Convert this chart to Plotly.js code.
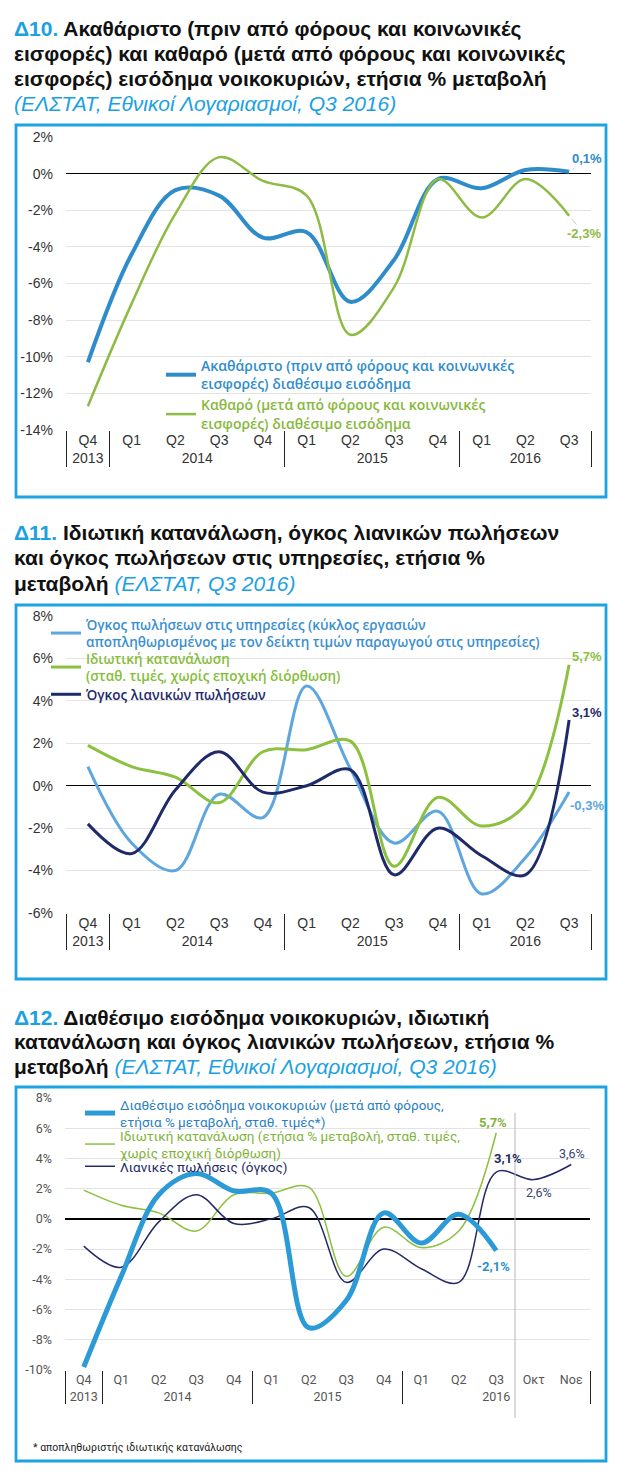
<!DOCTYPE html>
<html>
<head>
<meta charset="utf-8">
<script src="https://cdn.plot.ly/plotly-3.0.1.min.js"></script>
<style>
html,body{margin:0;padding:0;background:#fff;}
#chart{width:629px;height:1477px;}
</style>
</head>
<body>
<div id="chart"></div>
<script>
// ---------- DATA ----------
// Δ10  (first quarter label carries a zero-width space so the axis keeps Q1..Q4 order inside each year)
const years10 = ['2013','2014','2014','2014','2014','2015','2015','2015','2015','2016','2016','2016'];
const quarters10 = ['Q4\u200B','Q1','Q2','Q3','Q4','Q1','Q2','Q3','Q4','Q1','Q2','Q3'];
const grossIncome = [-10.3,-4.4,-0.9,-1.2,-3.5,-3.2,-7.0,-4.7,-0.3,-0.8,0.2,0.1];
const netIncome = [-12.7,-7.1,-2.2,0.9,-0.4,-1.2,-8.8,-6.2,-0.3,-2.4,-0.3,-2.3];
const yTicks10 = [-14,-12,-10,-8,-6,-4,-2,0,2];
const yLabels10 = ['-14%','-12%','-10%','-8%','-6%','-4%','-2%','0%','2%'];

// Δ11
const years11 = ['2013','2014','2014','2014','2014','2015','2015','2015','2015','2016','2016','2016'];
const quarters11 = ['Q4\u200B','Q1','Q2','Q3','Q4','Q1','Q2','Q3','Q4','Q1','Q2','Q3'];
const servicesSales = [0.9,-2.7,-4.0,-0.4,-1.5,4.7,0.8,-2.7,-1.2,-5.1,-3.4,-0.3];
const privateConsumption = [1.9,0.9,0.4,-0.8,1.6,1.7,2.1,-3.8,-0.55,-1.9,-0.9,5.7];
const retailSales = [-1.8,-3.2,-0.2,1.6,-0.3,0.0,0.75,-4.2,-2.0,-3.3,-4.2,3.1];
const yTicks11 = [-6,-4,-2,0,2,4,6,8];
const yLabels11 = ['-6%','-4%','-2%','0%','2%','4%','6%','8%'];

// Δ12
const years12 = ['2013','2014','2014','2014','2014','2015','2015','2015','2015','2016','2016','2016','2016','2016'];
const periods12 = ['Q4\u200B','Q1','Q2','Q3','Q4','Q1','Q2','Q3','Q4','Q1','Q2','Q3','Οκτ','Νοε'];
const disposableIncome = [-9.8,-3.8,1.6,3.0,1.85,1.7,-7.2,-5.4,0.4,-1.6,0.3,-2.1];
const privateConsumption12 = [1.9,0.9,0.4,-0.8,1.6,1.7,2.1,-3.8,-0.55,-1.9,-0.8,5.7];
const retailSales12 = [-1.8,-3.2,-0.2,1.6,-0.3,0.0,0.75,-4.2,-2.0,-3.3,-4.2,3.1,2.6,3.6];
const yTicks12 = [-10,-8,-6,-4,-2,0,2,4,6,8];
const yLabels12 = ['-10%','-8%','-6%','-4%','-2%','0%','2%','4%','6%','8%'];

// ---------- LAYOUT HELPERS ----------
const W = 629, H = 1477;
const px = x => x / W;
const py = y => 1 - y / H;
const ARIAL = 'Liberation Sans, Arial, sans-serif';
const OPEN = 'Open Sans, Noto Sans, sans-serif';
const CAL = 'Roboto, Noto Sans, sans-serif';
const TBLUE = '#1ba1e2';

const C1blue = '#2e8ccb', C1green = '#8dbb43';
const C2blue = '#5ea6dd', C2green = '#8cc13f', C2navy = '#1f2a6b';
const C3blue = '#2d9ad8', C3green = '#8cc13f', C3navy = '#232a66';

function xcat(y, q, n){ return [y.slice(0, n), q.slice(0, n)]; }
const sp = (c, t) => "<span style='color:"+c+"'>"+t+"</span>";

const traces = [
  // Δ10
  {x: xcat(years10, quarters10, grossIncome.length), y: grossIncome, type:'scatter', mode:'lines', xaxis:'x', yaxis:'y',
   line:{color:C1blue, width:4, shape:'spline', smoothing:1}, legend:'legend',
   name: sp('#2f8dcc', 'Ακαθάριστο (πριν από φόρους και κοινωνικές<br>εισφορές) διαθέσιμο εισόδημα')},
  {x: xcat(years10, quarters10, netIncome.length), y: netIncome, type:'scatter', mode:'lines', xaxis:'x', yaxis:'y',
   line:{color:C1green, width:2.5, shape:'spline', smoothing:1}, legend:'legend',
   name: sp('#86b83c', 'Καθαρό (μετά από φόρους και κοινωνικές<br>εισφορές) διαθέσιμο εισόδημα')},
  // Δ11
  {x: xcat(years11, quarters11, servicesSales.length), y: servicesSales, type:'scatter', mode:'lines', xaxis:'x2', yaxis:'y2',
   line:{color:C2blue, width:3, shape:'spline', smoothing:1}, legend:'legend2',
   name: sp('#3a8fd0', 'Όγκος πωλήσεων στις υπηρεσίες (κύκλος εργασιών<br>αποπληθωρισμένος με τον δείκτη τιμών παραγωγού στις υπηρεσίες)')},
  {x: xcat(years11, quarters11, privateConsumption.length), y: privateConsumption, type:'scatter', mode:'lines', xaxis:'x2', yaxis:'y2',
   line:{color:C2green, width:3, shape:'spline', smoothing:1}, legend:'legend4',
   name: sp('#86bd3a', 'Ιδιωτική κατανάλωση<br>(σταθ. τιμές, χωρίς εποχική διόρθωση)')},
  {x: xcat(years11, quarters11, retailSales.length), y: retailSales, type:'scatter', mode:'lines', xaxis:'x2', yaxis:'y2',
   line:{color:C2navy, width:3, shape:'spline', smoothing:1}, legend:'legend5',
   name: sp(C2navy, 'Όγκος λιανικών πωλήσεων')},
  // Δ12
  {x: xcat(years12, periods12, privateConsumption12.length), y: privateConsumption12, type:'scatter', mode:'lines', xaxis:'x3', yaxis:'y3',
   line:{color:C3green, width:1.5, shape:'spline', smoothing:1}, legend:'legend6',
   name: sp('#7fb339', 'Ιδιωτική κατανάλωση (ετήσια % μεταβολή, σταθ. τιμές,<br>χωρίς εποχική διόρθωση)')},
  {x: xcat(years12, periods12, retailSales12.length), y: retailSales12, type:'scatter', mode:'lines', xaxis:'x3', yaxis:'y3',
   line:{color:C3navy, width:1.5, shape:'spline', smoothing:1}, legend:'legend7',
   name: sp(C3navy, 'Λιανικές πωλήσεις (όγκος)')},
  {x: xcat(years12, periods12, disposableIncome.length), y: disposableIncome, type:'scatter', mode:'lines', xaxis:'x3', yaxis:'y3',
   line:{color:C3blue, width:5, shape:'spline', smoothing:1}, legend:'legend3',
   name: sp('#2a7fbf', 'Διαθέσιμο εισόδημα νοικοκυριών (μετά από φόρους,<br>ετήσια % μεταβολή, σταθ. τιμές*)')}
];

function xAxis(dom, anchor, font, n){
  return {type:'multicategory', domain:dom, anchor:anchor, range:[-0.5, n-0.5], autorange:false,
    showgrid:false, zeroline:false, showline:false, ticks:'',
    showdividers:true, dividercolor:'#222', dividerwidth:1,
    tickfont:font, fixedrange:true};
}
function yAxis(dom, anchor, range, tv, tt, font, zw){
  return {domain:dom, anchor:anchor, range:range, tickvals:tv, ticktext:tt, showgrid:true,
    gridcolor:'#e3e3e3', gridwidth:1, zeroline:true, zerolinecolor:'#000', zerolinewidth:zw,
    showline:false, ticks:'', ticklabelstandoff:12, tickfont:font, fixedrange:true};
}
const tf12 = {family:ARIAL, size:14, color:'#333'};
const tf3 = {family:CAL, size:12.5, color:'#555'};

function titleLine(txt, y){
  return {xref:'paper', yref:'paper', x:px(12), y:py(y), xanchor:'left', yanchor:'middle',
    showarrow:false, align:'left', text:txt, font:{family:ARIAL, size:21, color:'#111'}};
}
const blueSpan = t => sp(TBLUE, t);

const annotations = [
  titleLine("<b>"+blueSpan("Δ10.")+" Ακαθάριστο (πριν από φόρους και κοινωνικές</b>", 29),
  titleLine("<b>εισφορές) και καθαρό (μετά από φόρους και κοινωνικές</b>", 54),
  titleLine("<b>εισφορές) εισόδημα νοικοκυριών, ετήσια % μεταβολή</b>", 79),
  titleLine("<i>"+blueSpan("(ΕΛΣΤΑΤ, Εθνικοί Λογαριασμοί, Q3 2016)")+"</i>", 103),

  titleLine("<b>"+blueSpan("Δ11.")+" Ιδιωτική κατανάλωση, όγκος λιανικών πωλήσεων</b>", 533),
  titleLine("<b>και όγκος πωλήσεων στις υπηρεσίες, ετήσια %</b>", 558),
  titleLine("<b>μεταβολή</b> <i>"+blueSpan("(ΕΛΣΤΑΤ, Q3 2016)")+"</i>", 583),

  titleLine("<b>"+blueSpan("Δ12.")+" Διαθέσιμο εισόδημα νοικοκυριών, ιδιωτική</b>", 1017),
  titleLine("<b>κατανάλωση και όγκος λιανικών πωλήσεων, ετήσια %</b>", 1042),
  titleLine("<b>μεταβολή</b> <i>"+blueSpan("(ΕΛΣΤΑΤ, Εθνικοί Λογαριασμοί, Q3 2016)")+"</i>", 1066),

  // value labels Δ10
  {xref:'x', yref:'y', x:grossIncome.length-1, y:grossIncome[grossIncome.length-1], text:'<b>0,1%</b>',
   showarrow:true, arrowhead:0, arrowwidth:0.8, arrowcolor:'#bbb', ax:18, ay:-13, standoff:4,
   font:{family:ARIAL, size:13, color:C1blue}},
  {xref:'x', yref:'y', x:netIncome.length-1, y:netIncome[netIncome.length-1], text:'<b>-2,3%</b>',
   showarrow:true, arrowhead:0, arrowwidth:0.8, arrowcolor:'#bbb', ax:15, ay:18, standoff:4,
   font:{family:ARIAL, size:13, color:C1green}},
  // value labels Δ11
  {xref:'x2', yref:'y2', x:privateConsumption.length-1, y:privateConsumption[privateConsumption.length-1], text:'<b>5,7%</b>',
   showarrow:false, xshift:18, yshift:8, font:{family:ARIAL, size:13, color:C2green}},
  {xref:'x2', yref:'y2', x:retailSales.length-1, y:retailSales[retailSales.length-1], text:'<b>3,1%</b>',
   showarrow:false, xshift:18, yshift:7, font:{family:ARIAL, size:13, color:C2navy}},
  {xref:'x2', yref:'y2', x:servicesSales.length-1, y:servicesSales[servicesSales.length-1], text:'<b>-0,3%</b>',
   showarrow:false, xshift:18, yshift:-13, font:{family:ARIAL, size:13, color:C2blue}},
  // value labels Δ12
  {xref:'x3', yref:'y3', x:privateConsumption12.length-1, y:privateConsumption12[privateConsumption12.length-1], text:'<b>5,7%</b>',
   showarrow:false, xshift:-3, yshift:10, font:{family:CAL, size:13, color:'#7fb339'}},
  {xref:'x3', yref:'y3', x:11, y:retailSales12[11], text:'<b>3,1%</b>',
   showarrow:false, xshift:12, yshift:14, font:{family:CAL, size:13, color:C3navy}},
  {xref:'x3', yref:'y3', x:disposableIncome.length-1, y:disposableIncome[disposableIncome.length-1], text:'<b>-2,1%</b>',
   showarrow:false, xshift:-3, yshift:-16, font:{family:CAL, size:13, color:'#2a8fd0'}},
  {xref:'x3', yref:'y3', x:12, y:retailSales12[12], text:'2,6%',
   showarrow:false, xshift:5, yshift:-13, font:{family:CAL, size:12.5, color:'#3a4275'}},
  {xref:'x3', yref:'y3', x:13, y:retailSales12[13], text:'3,6%',
   showarrow:false, xshift:1, yshift:11, font:{family:CAL, size:12.5, color:'#3a4275'}},
  // footnote
  {xref:'paper', yref:'paper', x:px(31), y:py(1447), xanchor:'left', yanchor:'middle', showarrow:false,
   text:'* αποπληθωριστής ιδιωτικής κατανάλωσης', font:{family:CAL, size:10.5, color:'#222'}}
];

function frame(y0, y1){
  return {type:'rect', xref:'paper', yref:'paper', x0:px(16), x1:px(606), y0:py(y1), y1:py(y0),
    line:{color:'#1ca3e3', width:2.8}, fillcolor:'rgba(0,0,0,0)', layer:'above'};
}
const shapes = [
  frame(125, 497), frame(605, 979), frame(1087, 1461),
  {type:'line', xref:'x3', yref:'paper', x0:11.5, x1:11.5, y0:py(1418), y1:py(1113),
   line:{color:'#b5b5b5', width:1}}
];

function leg(x, top, font){
  return {x:px(x), y:py(top), xanchor:'left', yanchor:'top', bgcolor:'rgba(0,0,0,0)',
    font:font, tracegroupgap:0, borderwidth:0};
}
const lf1 = {family:OPEN, size:14, weight:600};
const lf2 = {family:OPEN, size:13.5, weight:600};
const lf3 = {family:CAL, size:13.5};

const layout = {
  width:W, height:H, margin:{l:0, r:0, t:0, b:0}, paper_bgcolor:'#fff', plot_bgcolor:'#fff',
  font:{family:ARIAL, color:'#333'},
  xaxis: xAxis([px(66), px(591)], 'y', tf12, quarters10.length),
  yaxis: yAxis([py(430), py(137)], 'x', [-14, 2], yTicks10, yLabels10, tf12, 1.5),
  xaxis2: xAxis([px(66), px(591)], 'y2', tf12, quarters11.length),
  yaxis2: yAxis([py(913), py(616)], 'x2', [-6, 8], yTicks11, yLabels11, tf12, 1),
  xaxis3: xAxis([px(65), px(590)], 'y3', tf3, periods12.length),
  yaxis3: yAxis([py(1370), py(1098)], 'x3', [-10, 8], yTicks12, yLabels12, tf3, 1.5),
  legend:  leg(161, 350, lf1),
  legend2: leg(46, 609, lf2),
  legend4: leg(46, 643, lf2),
  legend5: leg(46, 679, lf2),
  legend3: leg(80, 1089, lf3),
  legend6: leg(80, 1120, lf3),
  legend7: leg(80, 1151, lf3),
  showlegend:true,
  annotations: annotations,
  shapes: shapes
};

Plotly.newPlot('chart', traces, layout, {staticPlot:true, displayModeBar:false});
</script>
</body>
</html>
